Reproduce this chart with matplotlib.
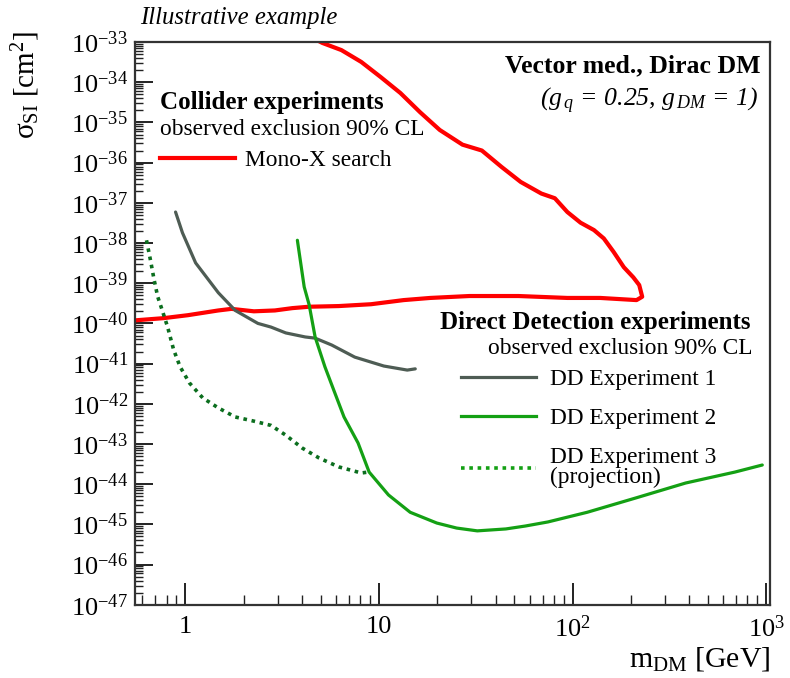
import numpy as np
import matplotlib
matplotlib.use("Agg")
from matplotlib import pyplot as plt
from matplotlib.ticker import FixedLocator, LogLocator, FuncFormatter, NullFormatter
from matplotlib.lines import Line2D

plt.rcParams["font.family"] = ["Liberation Serif", "DejaVu Serif"]
plt.rcParams["mathtext.fontset"] = "custom"
plt.rcParams["mathtext.rm"] = "Liberation Serif"
plt.rcParams["mathtext.it"] = "Liberation Serif:italic"
plt.rcParams["mathtext.bf"] = "Liberation Serif:bold"

# Mono-X contour (lower branch left->right, then upper branch back to the top)
monox_m = [0.50, 0.77, 1.03, 1.48, 1.73, 2.26, 2.9, 3.57, 4.36, 6.2, 9.1, 13.4, 18.4,
           29.3, 52.6, 94, 139, 214, 229, 221, 206, 184, 163, 145, 129, 110, 94, 81,
           69, 54, 43, 34, 27, 20.6, 16.3, 12.9, 10.2, 8.1, 6.4, 5.1, 4.5]
monox_xs = [1.15e-40, 1.35e-40, 1.6e-40, 2.1e-40, 2.3e-40, 2.0e-40, 2.1e-40, 2.4e-40,
            2.6e-40, 2.7e-40, 3.0e-40, 3.8e-40, 4.3e-40, 4.8e-40, 4.8e-40, 4.3e-40,
            4.3e-40, 3.8e-40, 4.6e-40, 9.0e-40, 1.4e-39, 2.5e-39, 6.0e-39, 1.3e-38,
            2.1e-38, 3.2e-38, 5.9e-38, 1.3e-37, 1.7e-37, 3.3e-37, 7.8e-37, 2.0e-36,
            2.8e-36, 6.5e-36, 1.8e-35, 5.4e-35, 1.35e-34, 3.2e-34, 6.3e-34, 9.5e-34, 1.3e-33]

dd1_m = [0.89, 0.966, 1.13, 1.48, 1.81, 2.37, 2.77, 3.3, 4.16, 4.68, 5.7, 7.5, 10.6, 14.0, 15.4]
dd1_xs = [5.9e-38, 1.8e-38, 3.2e-39, 5.8e-40, 2.1e-40, 1.0e-40, 8.1e-41, 5.8e-41,
          4.6e-41, 4.3e-41, 2.9e-41, 1.45e-41, 8.7e-42, 6.9e-42, 7.4e-42]

dd2_m = [3.79, 4.11, 4.36, 4.68, 5.26, 5.84, 6.6, 7.8, 8.9, 11.2, 14.5, 19.9, 25.2,
         32.2, 45.2, 57, 74.6, 119, 214, 384, 689, 955]
dd2_xs = [1.17e-38, 8.1e-40, 2.9e-40, 4.6e-41, 8.3e-42, 2.2e-42, 4.7e-43, 1.06e-43,
          2.0e-44, 5.4e-45, 2.0e-45, 1.08e-45, 8.1e-46, 6.9e-46, 7.7e-46, 9.1e-46,
          1.15e-45, 2.0e-45, 4.6e-45, 1.07e-44, 2.0e-44, 3.0e-44]

dd3_m = [0.63, 0.66, 0.69, 0.72, 0.76, 0.81, 0.87, 0.94, 1.05, 1.23, 1.48, 1.81, 2.26,
         2.77, 3.30, 4.02, 4.90, 6.19, 8.1, 8.8]
dd3_xs = [1.17e-38, 3.8e-39, 1.2e-39, 4.6e-40, 2.1e-40, 8.1e-41, 2.2e-41, 8.3e-42,
          3.3e-42, 1.4e-42, 7.9e-43, 4.7e-43, 3.7e-43, 2.9e-43, 1.66e-43, 7.9e-44,
          4.5e-44, 2.7e-44, 1.9e-44, 2.0e-44]

x_decades = [0, 1, 2, 3]
y_decades = list(range(-47, -32))

red = "#ff0000"
gray = "#4e5c54"
green = "#14a014"
dkgreen = "#0b6e1e"

fig = plt.figure(figsize=(7.9, 6.78), dpi=100)
ax = fig.add_axes([0.171, 0.108, 0.804, 0.830])

kw = dict(solid_joinstyle="round", solid_capstyle="round")
ax.plot(monox_m, monox_xs, color=red, lw=3.0, **kw)
ax.plot(dd1_m, dd1_xs, color=gray, lw=2.3, **kw)
ax.plot(dd2_m, dd2_xs, color=green, lw=2.3, **kw)
ax.plot(dd3_m, dd3_xs, color=dkgreen, lw=2.6, ls=(0, (1, 1.3)))

ax.set_xscale("log")
ax.set_yscale("log")
ax.set_xlim(0.55, 1050)
ax.set_ylim(1e-47, 1e-33)

ax.xaxis.set_major_locator(FixedLocator([10.0 ** e for e in x_decades]))
ax.xaxis.set_minor_locator(LogLocator(base=10, subs=np.arange(2, 10), numticks=50))
ax.yaxis.set_major_locator(FixedLocator([10.0 ** e for e in y_decades]))
ax.yaxis.set_minor_locator(LogLocator(base=10, subs=np.arange(2, 10), numticks=200))

def xfmt(v, pos):
    e = int(round(np.log10(v)))
    if e == 0:
        return "1"
    if e == 1:
        return "10"
    return r"$10^{%d}$" % e

def yfmt(v, pos):
    return r"$10^{%d}$" % int(round(np.log10(v)))

ax.xaxis.set_major_formatter(FuncFormatter(xfmt))
ax.xaxis.set_minor_formatter(NullFormatter())
ax.yaxis.set_major_formatter(FuncFormatter(yfmt))
ax.yaxis.set_minor_formatter(NullFormatter())

ax.tick_params(axis="both", which="both", direction="in", top=False, right=False,
               labelsize=19, color="#222222")
ax.tick_params(axis="y", which="major", length=13, width=1.4, pad=5)
ax.tick_params(axis="y", which="minor", length=6, width=1.0)
ax.tick_params(axis="x", which="major", length=16, width=1.4, pad=8)
ax.tick_params(axis="x", which="minor", length=7, width=1.0)
for s in ax.spines.values():
    s.set_linewidth(1.6)
    s.set_color("#333333")

ax.set_ylabel("σ$_{\\mathrm{SI}}$ [cm$^{2}$]", fontsize=21, loc="top")
ax.yaxis.set_label_coords(-0.146, 1.02)
ax.set_xlabel("m$_{\\mathrm{DM}}$ [GeV]", fontsize=21.5, loc="right")
ax.xaxis.set_label_coords(1.0, -0.072)

fig.text(140 / 790, 1 - 18 / 678, "Illustrative example", fontsize=17.8,
         style="italic", ha="left", va="center")

ax.text(0.039, 0.892, "Collider experiments", transform=ax.transAxes, fontsize=18,
        fontweight="bold", ha="left", va="center")
ax.text(0.039, 0.844, "observed exclusion 90% CL", transform=ax.transAxes, fontsize=16.8,
        ha="left", va="center")
leg1 = ax.legend([Line2D([], [], color=red, lw=3.0)], ["Mono-X search"],
                 loc="center left", bbox_to_anchor=(0.039, 0.79), frameon=False,
                 borderpad=0, borderaxespad=0,
                 fontsize=16.8, handlelength=3.2, handletextpad=0.45)
ax.add_artist(leg1)

ax.text(0.984, 0.957, "Vector med., Dirac DM", transform=ax.transAxes, fontsize=18.5,
        fontweight="bold", ha="right", va="center")
ax.text(0.981, 0.895, "(g$_{\\,q}$ = 0.25, g$_{\\,DM}$ = 1)", transform=ax.transAxes,
        fontsize=18.5, style="italic", ha="right", va="center")

ax.text(0.969, 0.501, "Direct Detection experiments", transform=ax.transAxes,
        fontsize=18, fontweight="bold", ha="right", va="center")
ax.text(0.972, 0.456, "observed exclusion 90% CL", transform=ax.transAxes,
        fontsize=16.8, ha="right", va="center")
leg2 = ax.legend([Line2D([], [], color=gray, lw=2.3), Line2D([], [], color=green, lw=2.3),
                  Line2D([], [], color=green, lw=2.6, ls=(0, (1, 1.3)))],
                 ["DD Experiment 1", "DD Experiment 2", "DD Experiment 3\n(projection)"],
                 loc="upper left", bbox_to_anchor=(0.513, 0.419), frameon=False,
                 borderpad=0, borderaxespad=0,
                 fontsize=16.8, handlelength=3.2, handletextpad=0.6, labelspacing=0.76)
for t in leg2.get_texts():
    t.set_linespacing(0.95)

fig.savefig("out.png", dpi=100)
